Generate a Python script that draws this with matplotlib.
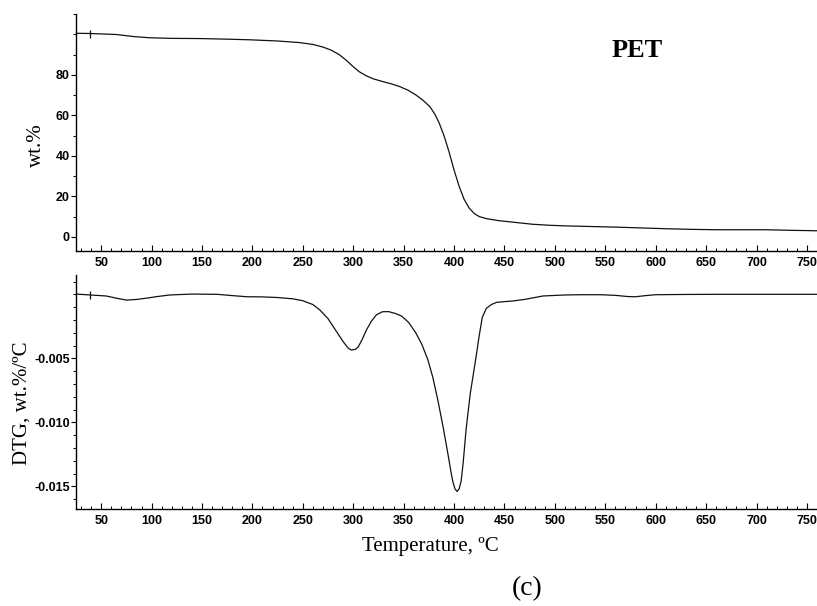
import matplotlib.pyplot as plt
from matplotlib.ticker import MultipleLocator, FixedLocator

# TG curve (wt.%)
tg_temp = [25, 39, 55, 65, 82, 98, 120, 148, 175, 197, 225, 247, 260, 270, 278,
           286, 293, 300, 306, 313, 320, 329, 338, 346, 354, 362, 369, 376, 381,
           385, 390, 395, 400, 405, 410, 415, 420, 425, 432, 444, 461, 478, 495,
           511, 535, 560, 585, 610, 635, 659, 685, 709, 735, 760]
tg_wt = [100.5, 100.4, 100.1, 99.9, 98.9, 98.3, 98.0, 97.9, 97.6, 97.3, 96.7,
         95.9, 95.0, 93.7, 92.2, 90.0, 87.2, 84.0, 81.5, 79.5, 78.0, 76.7, 75.5,
         74.2, 72.5, 70.1, 67.5, 64.3, 60.5, 56.5, 50.0, 42.0, 33.0, 25.0, 18.5,
         14.2, 11.5, 10.0, 9.0, 8.0, 7.1, 6.2, 5.7, 5.4, 5.1, 4.8, 4.4, 4.0, 3.7,
         3.5, 3.5, 3.5, 3.2, 3.0]

# DTG curve (wt.%/oC)
dtg_temp = [25, 39, 55, 65, 75, 85, 95, 105, 118, 140, 165, 180, 195, 210, 225,
            240, 250, 260, 267, 275, 280, 285, 290, 295, 298, 302, 305, 309, 313,
            318, 323, 329, 335, 342, 348, 355, 362, 368, 374, 379, 384, 389, 394,
            397, 399, 401, 403, 405, 407, 409, 412, 416, 419, 422, 425, 428, 432,
            437, 442, 450, 458, 470, 488, 510, 527, 545, 560, 572, 580, 590, 600,
            630, 660, 700, 760]
dtg_val = [0.00002, -0.00005, -0.00013, -0.0003, -0.00045, -0.0004, -0.0003,
           -0.00018, -0.00005, 0.00002, 0.0, -0.0001, -0.00019, -0.0002, -0.00025,
           -0.00035, -0.0005, -0.0008, -0.00123, -0.0019, -0.0025, -0.0031,
           -0.0037, -0.0042, -0.00435, -0.0043, -0.0041, -0.0035, -0.0028,
           -0.0021, -0.0016, -0.00136, -0.00135, -0.0015, -0.0017, -0.0022,
           -0.003, -0.0039, -0.0051, -0.0065, -0.0083, -0.0103, -0.0125,
           -0.0139, -0.0147, -0.0152, -0.0154, -0.0152, -0.0146, -0.0132,
           -0.0105, -0.0078, -0.0063, -0.0048, -0.0032, -0.0018, -0.0011,
           -0.0008, -0.00063, -0.00057, -0.00052, -0.0004, -0.00013, -0.00005,
           -0.00003, -0.00003, -0.00008, -0.00017, -0.00019, -0.0001, -0.00003,
           -0.00001, 0.0, 0.0, 0.0]

tg_ticks = [0, 20, 40, 60, 80]
dtg_ticks = [-0.005, -0.010, -0.015]
dtg_tick_labels = ["-0.005", "-0.010", "-0.015"]

serif = ['Liberation Serif', 'DejaVu Serif']
tick_font = ['Liberation Sans', 'DejaVu Sans']

fig = plt.figure(figsize=(8.17, 6.06), dpi=100)
ax1 = fig.add_axes([0.093, 0.5858, 0.907, 0.391])
ax2 = fig.add_axes([0.093, 0.160, 0.907, 0.386])

ax1.plot(tg_temp, tg_wt, color='#111111', lw=0.9)
ax1.plot([tg_temp[1]], [tg_wt[1]], marker='|', ms=6, mew=0.9, color='#111111')
ax2.plot(dtg_temp, dtg_val, color='#111111', lw=0.9)
ax2.plot([dtg_temp[1]], [dtg_val[1]], marker='|', ms=6, mew=0.9, color='#111111')

ax1.set_ylim(-7, 110)
ax2.set_ylim(-0.01677, 0.0015)
ax1.yaxis.set_major_locator(FixedLocator(tg_ticks))
ax1.yaxis.set_minor_locator(MultipleLocator(10))
ax2.yaxis.set_major_locator(FixedLocator(dtg_ticks))
ax2.set_yticklabels(dtg_tick_labels)
ax2.yaxis.set_minor_locator(MultipleLocator(0.001))

for ax in (ax1, ax2):
    ax.set_xlim(25, 760)
    ax.xaxis.set_major_locator(MultipleLocator(50))
    ax.xaxis.set_minor_locator(MultipleLocator(10))
    for s in ('top', 'right'):
        ax.spines[s].set_visible(False)
    for s in ('left', 'bottom'):
        ax.spines[s].set_linewidth(1.0)
    ax.tick_params(axis='x', which='major', direction='in', length=4, width=0.8, pad=4)
    ax.tick_params(axis='x', which='minor', direction='in', length=2.5, width=0.7)
    ax.tick_params(axis='y', which='major', direction='out', length=3.5, width=0.8, pad=1)
    ax.tick_params(axis='y', which='minor', direction='out', length=2, width=0.7)
    for lab in ax.get_xticklabels() + ax.get_yticklabels():
        lab.set_family(tick_font)
        lab.set_fontweight('bold')
        lab.set_fontsize(9)

ax1.text(582, 92, "PET", family=serif, fontweight='bold', fontsize=19,
         ha='center', va='center')

fig.text(0.045, 1 - 145 / 606, "wt.%", family=serif, fontsize=15,
         rotation=90, ha='center', va='center')
fig.text(0.027, 1 - 403 / 606, "DTG, wt.%/ºC", family=serif, fontsize=15,
         rotation=90, ha='center', va='center')
fig.text(430 / 817, 1 - 547 / 606, "Temperature, ºC", family=serif, fontsize=15,
         ha='center', va='center')
fig.text(527 / 817, 1 - 589 / 606, "(c)", family=serif, fontsize=20,
         ha='center', va='center')

fig.savefig("out.png", dpi=100)
